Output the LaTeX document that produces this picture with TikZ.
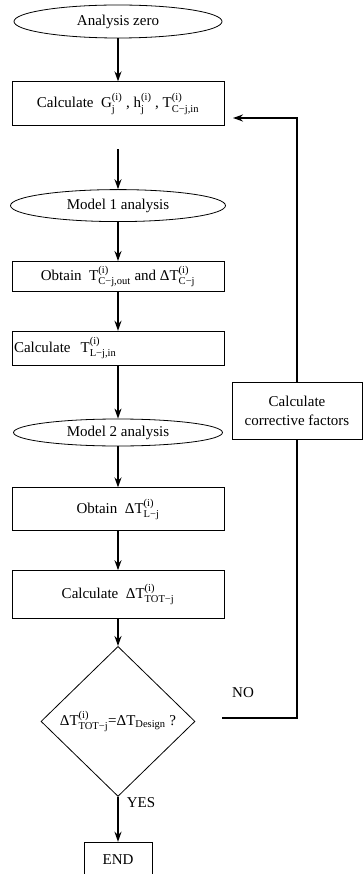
\documentclass[tikz,border=0pt]{standalone}
\usepackage{fontspec}
\setmainfont{Liberation Serif}
\usepackage{amsmath}
\usetikzlibrary{shapes.geometric,positioning,arrows.meta}
\newcommand{\ix}[2]{$^{\text{#1}}_{\text{#2}}$}

\begin{document}
\begin{tikzpicture}[
    x=1pt, y=1pt,
    every node/.style={font=\fontsize{15}{17}\selectfont},
    stepbox/.style={rectangle, draw, line width=0.8pt, minimum width=212pt, inner sep=2pt},
    oval/.style={ellipse, draw, line width=0.8pt, inner sep=0pt},
    decision/.style={diamond, draw, line width=0.8pt, inner sep=0pt, minimum width=154pt, minimum height=150pt},
    arrow/.style={-{Stealth[length=10pt,width=7pt]}, line width=1.6pt},
    link/.style={line width=1.6pt}
]
\useasboundingbox (0,0) rectangle (362,-874);

% Main column
\node[oval, minimum width=208pt, minimum height=33pt] (start) at (118,-21.5) {Analysis zero};
\node[stepbox, minimum height=44pt, below=43pt of start] (calcG) {Calculate~ G\ix{(i)}{j} , h\ix{(i)}{j} , T\ix{(i)}{C−j,in}};
\node[oval, minimum width=215pt, minimum height=32pt, below=63pt of calcG] (model1) {Model 1 analysis};
\node[stepbox, minimum height=30pt, below=39pt of model1] (obtainT) {Obtain~ T\ix{(i)}{C−j,out} and ΔT\ix{(i)}{C−j}};
\node[stepbox, minimum height=34pt, text width=208pt, align=left, below=39pt of obtainT] (calcTL) {Calculate~ T\ix{(i)}{L−j,in}};
\node[oval, minimum width=209pt, minimum height=27pt, below=53pt of calcTL] (model2) {Model 2 analysis};
\node[stepbox, minimum height=43pt, below=41pt of model2] (obtainDL) {Obtain~ ΔT\ix{(i)}{L−j}};
\node[stepbox, minimum height=48pt, below=39pt of obtainDL] (calcTOT) {Calculate~ ΔT\ix{(i)}{TOT−j}};
\node[decision, below=27pt of calcTOT] (check) {ΔT\ix{(i)}{TOT−j}=ΔT$_{\text{Design}}$ ?};
\node[stepbox, minimum width=68pt, inner ysep=12pt, text depth=30pt, below=45pt of check] (finish) {END};

% Feedback branch
\node[stepbox, minimum width=130pt, minimum height=57pt, align=center, font=\fontsize{15}{19}\selectfont] (corr) at (297,-410.5) {Calculate\\corrective factors};
\coordinate (fbin) at (233,-118);
\coordinate (noout) at (222,-718);
\node (no) at (243,-693) {NO};
\node (yes) at (141,-803) {YES};

\draw[arrow] (start) -- (calcG);
\draw[arrow] ([yshift=-23pt]calcG.south) -- (model1);
\draw[arrow] (model1) -- (obtainT);
\draw[arrow] (obtainT) -- (calcTL);
\draw[arrow] (calcTL) -- (model2);
\draw[arrow] (model2) -- (obtainDL);
\draw[arrow] (obtainDL) -- (calcTOT);
\draw[arrow] (calcTOT) -- (check);
\draw[arrow] (check) -- (finish);
\draw[arrow] (corr.north) |- (fbin);
\draw[link] (noout) -| (corr.south);

\end{tikzpicture}
\end{document}
